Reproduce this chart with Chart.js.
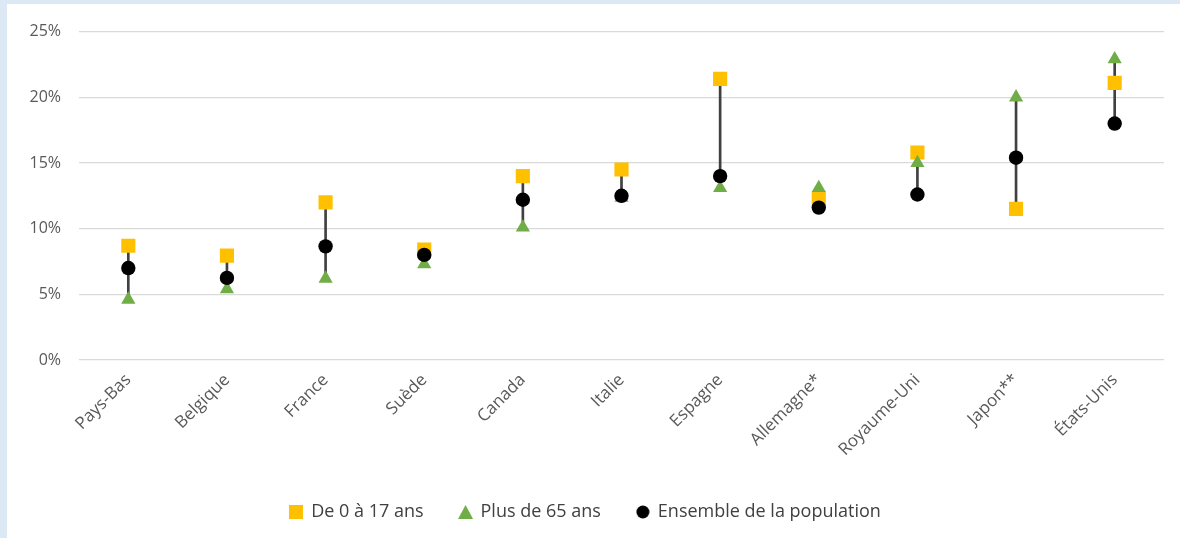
<!DOCTYPE html>
<html>
<head>
<meta charset="utf-8">
<script src="https://cdn.jsdelivr.net/npm/chart.js@4"></script>
<style>
  html,body{margin:0;padding:0;background:#dde8f5;}
  #wrap{position:absolute;left:7px;top:4px;width:1173px;height:534px;background:#fff;}
</style>
</head>
<body>
<div id="wrap"><canvas id="povChart" width="1173" height="534"></canvas></div>
<script>
const countries=['Pays-Bas','Belgique','France','Suède','Canada','Italie','Espagne','Allemagne*','Royaume-Uni','Japon**','États-Unis'];
const kids=[8.7,7.95,12.0,8.4,14.0,14.5,21.4,12.3,15.8,11.5,21.1];
const seniors=[4.6,5.4,6.2,7.3,10.1,12.35,13.1,13.1,15.0,20.0,22.9];
const everyone=[7.0,6.25,8.65,8.0,12.2,12.5,14.0,11.6,12.6,15.4,18.0];
const yTicks=[0,5,10,15,20,25];

const FONT='"Open Sans", sans-serif';
const ranges=countries.map((c,i)=>{ const v=[kids[i],seniors[i],everyone[i]]; return [Math.min(...v),Math.max(...v)]; });

// small legend icons, Excel style
function icon(w,h,draw){ const c=document.createElement('canvas'); c.width=w; c.height=h; draw(c.getContext('2d')); return c; }
const icons=[
  icon(14,14,g=>{g.fillStyle='#ffc000';g.fillRect(0,0,14,14);}),
  icon(15,14,g=>{g.fillStyle='#70ad47';g.beginPath();g.moveTo(7.5,0);g.lineTo(15,14);g.lineTo(0,14);g.fill();}),
  icon(14,14,g=>{g.fillStyle='#000';g.beginPath();g.arc(7,7,6.5,0,Math.PI*2);g.fill();})
];

function marker(label,vals,color,style,r,order){
  return {type:'line',label,data:vals,showLine:false,pointStyle:style,pointRadius:r,pointHoverRadius:r,
    pointBackgroundColor:color,pointBorderColor:color,pointBorderWidth:0,backgroundColor:color,borderColor:color,order};
}

new Chart(document.getElementById('povChart'),{
  data:{labels:countries,datasets:[
    {type:'bar',label:'range',data:ranges,backgroundColor:'#404040',barThickness:2,order:3},
    marker('De 0 à 17 ans',kids,'#ffc000','rect',10,2),
    marker('Plus de 65 ans',seniors,'#70ad47','triangle',8.2,1),
    marker('Ensemble de la population',everyone,'#000000','circle',7.2,0)
  ]},
  options:{
    responsive:false,animation:false,
    layout:{padding:{left:0,right:16,top:20,bottom:7}},
    plugins:{
      tooltip:{enabled:false},
      legend:{position:'bottom',
        labels:{usePointStyle:true,boxWidth:12,boxHeight:12,padding:36,color:'#404040',font:{family:FONT,size:18},
          generateLabels(chart){
            return chart.data.datasets.slice(1).map((ds,i)=>({text:ds.label,pointStyle:icons[i],fillStyle:ds.backgroundColor,
              strokeStyle:ds.backgroundColor,lineWidth:0,fontColor:'#404040',hidden:false,datasetIndex:i+1}));
          }}}
    },
    scales:{
      x:{offset:true,grid:{display:false},border:{display:false},
        ticks:{minRotation:45,maxRotation:45,color:'#595959',font:{family:FONT,size:17},padding:2},
        afterFit(s){ s.height=107; }},
      y:{min:0,max:25,afterBuildTicks(s){ s.ticks=yTicks.map(v=>({value:v})); },
        grid:{color:'#d9d9d9',lineWidth:1.3,drawTicks:false},border:{display:false},
        ticks:{color:'#595959',font:{family:FONT,size:16},padding:18,callback:v=>v+'%'},
        afterFit(s){ s.width=72; }}
    }
  }
});
</script>
</body>
</html>
